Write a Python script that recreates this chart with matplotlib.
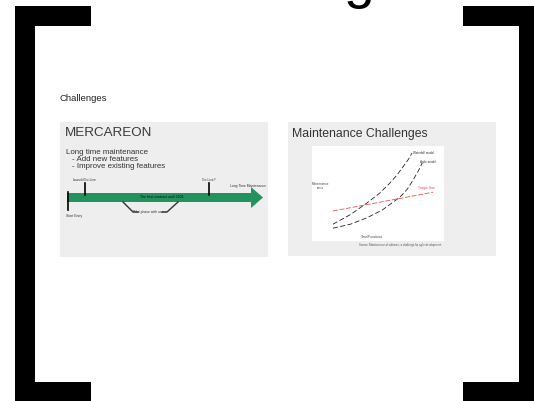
import numpy as np
import matplotlib.pyplot as plt

plt.rcParams['font.family'] = ['Liberation Sans', 'DejaVu Sans']

# inner chart data (maintenance cost vs. time/functions)
waterfall_x = [0.1, 2.0, 3.8, 5.2, 6.3, 7.1, 7.7, 8.3, 8.7]
waterfall_y = [1.1, 2.3, 3.75, 5.0, 6.25, 7.3, 8.25, 9.2, 10.0]
agile_x = [0.1, 2.0, 3.8, 5.5, 7.4, 8.2, 8.8, 9.4, 9.8]
agile_y = [0.6, 1.1, 1.9, 2.9, 4.5, 5.5, 6.6, 7.8, 8.75]
trend_x = [0.1, 11.0]
trend_y = [2.75, 5.1]

# timeline ticks on the green arrow
tick_x = [85, 209]
tick_labels = ['Launch/Go-Live', 'Go Live?']

W, H = 534, 401
fig = plt.figure(figsize=(W / 100, H / 100), dpi=100)
ax = fig.add_axes([0, 0, 1, 1])
ax.set_xlim(0, W)
ax.set_ylim(H, 0)
ax.axis('off')

# cut-off title letter at the top
ax.text(359, -3, 'g', fontsize=40, ha='center', va='baseline', color='black')

# brackets
ax.fill([15, 91, 91, 35, 35, 91, 91, 15], [6, 6, 26, 26, 382, 382, 402, 402], color='black', lw=0)
ax.fill([463, 540, 540, 463, 463, 519, 519, 463], [6, 6, 402, 402, 382, 382, 26, 26], color='black', lw=0)

ax.text(60, 98.5, 'Challenges', fontsize=6.8, va='center', color='#222222')

# left panel
ax.fill([60, 268, 268, 60], [122, 122, 257, 257], color='#eeeeee', lw=0)
ax.text(65, 133, 'MERCAREON', fontsize=9.6, va='center', color='#3a3a3a')
ax.text(66, 152, 'Long time maintenance', fontsize=5.7, va='center', color='#333333')
ax.text(72, 159.5, '- Add new features', fontsize=5.7, va='center', color='#333333')
ax.text(72, 167, '- Improve existing features', fontsize=5.7, va='center', color='#333333')

ax.fill([67, 251, 251, 263, 251, 251, 67], [193, 193, 187, 197.5, 208, 202, 202], color='#22925f', lw=0)
ax.plot([68, 68], [192, 210], color='black', lw=1.2)
ax.text(66, 216, 'Start Entry', fontsize=2.4, va='center', color='#333333')
for x, lab in zip(tick_x, tick_labels):
    ax.plot([x, x], [183, 195], color='black', lw=1.2)
    ax.text(x, 180, lab, fontsize=2.4, ha='center', va='center', color='#333333')
ax.text(248, 186, 'Long Time Maintenance', fontsize=2.4, ha='center', va='center', color='#333333')
ax.text(162, 197, 'The first contract until 2021', fontsize=2.6, ha='center', va='center', color='#111111')
ax.plot([123, 133, 138], [202, 212, 212], color='#333333', lw=1.0)
ax.plot([162, 167, 178], [212, 212, 202], color='#333333', lw=1.0)
ax.text(150, 212, 'Pilot phase with users', fontsize=2.4, ha='center', va='center', color='#333333')

# right panel
ax.fill([288, 496, 496, 288], [122, 122, 256, 256], color='#eeeeee', lw=0)
ax.text(292, 134.5, 'Maintenance Challenges', fontsize=8.8, va='center', color='#333333')
ax.fill([312, 444, 444, 312], [146, 146, 241, 241], color='white', lw=0)
ax.text(320, 186, 'Maintenance\ncosts', fontsize=2.2, ha='center', va='center', color='#444444', linespacing=1.1)
ax.text(372, 237.5, 'Time/Functions', fontsize=2.3, ha='center', va='center', color='#444444')
ax.text(400, 245, 'Source: Maintenance of software, a challenge for agile development', fontsize=2.0, ha='center', va='center', color='#555555')

# inner chart
ic = fig.add_axes([332 / W, 1 - 233 / H, 92 / W, 80 / H])
ic.set_xlim(0, 10)
ic.set_ylim(0, 10)
ic.axis('off')
ic.annotate('', xy=(0, 10.2), xytext=(0, 0), arrowprops=dict(arrowstyle='-|>', lw=0.6, color='#333333', mutation_scale=3))
ic.annotate('', xy=(10.2, 0), xytext=(0, 0), arrowprops=dict(arrowstyle='-|>', lw=0.6, color='#333333', mutation_scale=3))
ic.plot(waterfall_x, waterfall_y, color='#222222', lw=0.6, ls=(0, (6, 3)), clip_on=False)
ic.plot(agile_x, agile_y, color='#222222', lw=0.6, ls=(0, (6, 3)), clip_on=False)
ic.plot(trend_x, trend_y, color='#f0504a', lw=0.6, ls=(0, (6, 2)), clip_on=False)
ic.text(10.0, 10.0, 'Waterfall model', fontsize=2.2, ha='center', va='center', color='#333333', clip_on=False)
ic.text(10.4, 8.9, 'Agile model', fontsize=2.2, ha='center', va='center', color='#333333', clip_on=False)
ic.text(10.2, 5.6, 'Tragic line', fontsize=2.6, ha='center', va='center', color='#e84c44', clip_on=False)

fig.savefig('out.png', dpi=100)
